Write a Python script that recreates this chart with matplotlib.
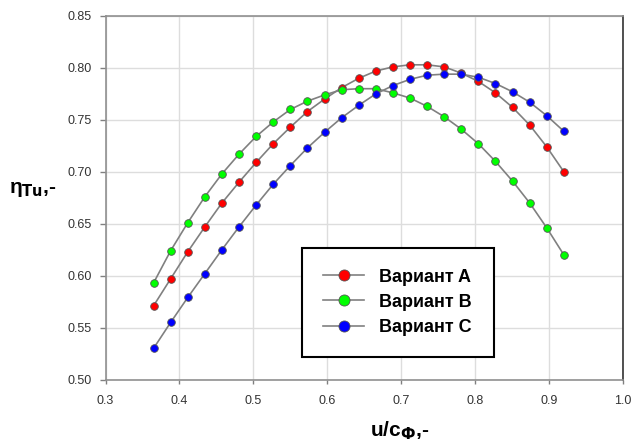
import numpy as np
import matplotlib
matplotlib.use('Agg')
import matplotlib.pyplot as plt
from matplotlib.ticker import FormatStrFormatter

# u/c_f values (same for all three variants)
x_vals = np.linspace(0.365, 0.92, 25)

eta_a = [0.571, 0.597, 0.623, 0.647, 0.670, 0.690, 0.709, 0.727, 0.743, 0.758,
         0.770, 0.781, 0.790, 0.797, 0.801, 0.803, 0.803, 0.801, 0.795, 0.787,
         0.776, 0.762, 0.745, 0.724, 0.700]
eta_b = [0.593, 0.624, 0.651, 0.676, 0.698, 0.717, 0.734, 0.748, 0.760, 0.768,
         0.774, 0.779, 0.780, 0.780, 0.776, 0.771, 0.763, 0.753, 0.741, 0.727,
         0.710, 0.691, 0.670, 0.646, 0.620]
eta_c = [0.530, 0.555, 0.579, 0.602, 0.625, 0.647, 0.668, 0.688, 0.706, 0.723,
         0.738, 0.752, 0.764, 0.775, 0.783, 0.789, 0.793, 0.794, 0.794, 0.791,
         0.785, 0.777, 0.767, 0.754, 0.739]

labels = ['Вариант A', 'Вариант B', 'Вариант C']
colors = ['#ff0000', '#00ff00', '#0000ff']

plt.rcParams['font.family'] = ['Liberation Sans', 'DejaVu Sans']

fig = plt.figure(figsize=(6.33, 4.43), dpi=100)
ax = fig.add_axes([0.1667, 0.1433, 0.8175, 0.8206])

for y, c, lab in zip([eta_a, eta_b, eta_c], colors, labels):
    ax.plot(x_vals, y, '-o', color='#808080', lw=1.2, markersize=5.5,
            markerfacecolor=c, markeredgecolor='#555555', markeredgewidth=0.6,
            label=lab)

ax.set_xlim(0.3, 1.0)
ax.set_ylim(0.50, 0.85)
ax.set_xticks(np.arange(0.3, 1.01, 0.1))
ax.set_yticks(np.arange(0.50, 0.851, 0.05))
ax.xaxis.set_major_formatter(FormatStrFormatter('%.1f'))
ax.yaxis.set_major_formatter(FormatStrFormatter('%.2f'))
ax.grid(True, color='#dddddd', lw=1.0)
ax.set_axisbelow(True)
ax.tick_params(direction='out', color='#808080', labelsize=9,
               labelcolor='#333333', width=1.0)
ax.tick_params(axis='x', length=3, pad=8)
ax.tick_params(axis='y', length=4.5, pad=5.5)
for s in ['left', 'bottom', 'top']:
    ax.spines[s].set_color('#909090')
    ax.spines[s].set_linewidth(1.2)
ax.spines['right'].set_color('#333333')
ax.spines['right'].set_linewidth(1.2)

ax.set_xlabel('u/c$_\\mathbf{Ф}$,-', fontsize=15, fontweight='bold')
ax.set_ylabel('η$_\\mathbf{Tu}$,-', fontsize=15, fontweight='bold', rotation=0,
              va='center')
ax.xaxis.set_label_coords(0.569, -0.111)
ax.yaxis.set_label_coords(-0.141, 0.524)

leg = ax.legend(loc='upper left', bbox_to_anchor=(0.38, 0.362, 0.371, 0.0),
                mode='expand', borderaxespad=0, fancybox=False, framealpha=1,
                edgecolor='black', prop={'weight': 'bold', 'size': 13},
                markerscale=1.45, handlelength=2.3, labelspacing=0.45,
                borderpad=1.15)
leg.get_frame().set_linewidth(1.5)

fig.savefig('out.png', dpi=100)
